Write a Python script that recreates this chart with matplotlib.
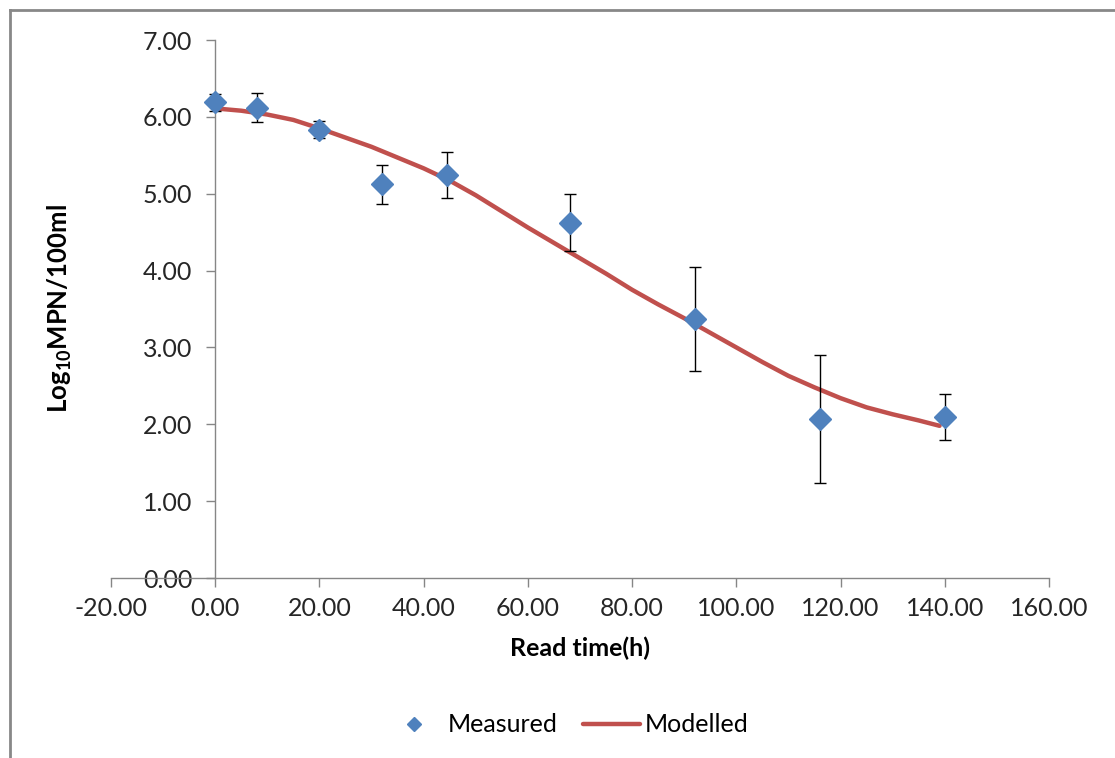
import matplotlib.pyplot as plt
import matplotlib.lines as mlines
import numpy as np

plt.rcParams['font.family'] = ['Lato', 'DejaVu Sans']
plt.rcParams['mathtext.fontset'] = 'custom'
plt.rcParams['mathtext.rm'] = 'Lato'
plt.rcParams['mathtext.bf'] = 'Lato:bold'

# measured values (read time in h, log10 MPN/100ml, error)
meas_t = [0, 8, 20, 32, 44.5, 68, 92, 116, 140]
meas_y = [6.19, 6.12, 5.83, 5.12, 5.24, 4.62, 3.37, 2.07, 2.10]
meas_err = [0.11, 0.19, 0.11, 0.25, 0.30, 0.37, 0.68, 0.83, 0.30]

# modelled curve
model_t = [0, 5, 10, 15, 20, 25, 30, 35, 40, 45, 50, 55, 60, 65, 70, 75, 80,
           85, 90, 95, 100, 105, 110, 115, 120, 125, 130, 135, 139]
model_y = [6.11, 6.08, 6.03, 5.96, 5.85, 5.73, 5.61, 5.47, 5.33, 5.17, 4.98,
           4.77, 4.56, 4.36, 4.16, 3.96, 3.75, 3.56, 3.38, 3.19, 3.00, 2.81,
           2.63, 2.48, 2.34, 2.22, 2.13, 2.05, 1.98]

fs = 18

fig = plt.figure(figsize=(11.15, 7.58), dpi=100)
ax = fig.add_axes([111/1115, 1-578/758, (1049-111)/1115, (578-40)/758])

ax.plot(model_t, model_y, color='#C0504D', lw=3.2, solid_capstyle='round',
        label='Modelled', zorder=2)
ax.errorbar(meas_t, meas_y, yerr=meas_err, fmt='none', ecolor='black',
            elinewidth=1, capsize=4, capthick=1, zorder=3)
ax.plot(meas_t, meas_y, ls='none', marker='D', ms=11, color='#4F81BD',
        mec='#4F81BD', label='Measured', zorder=4)

ax.set_xlim(-20, 160)
ax.set_ylim(0, 7)
ax.set_xticks(np.arange(-20, 161, 20))
ax.set_yticks(np.arange(0, 7.1, 1))
ax.xaxis.set_major_formatter(plt.FormatStrFormatter('%.2f'))
ax.yaxis.set_major_formatter(plt.FormatStrFormatter('%.2f'))

ax.spines['left'].set_position(('data', 0))
ax.spines['top'].set_visible(False)
ax.spines['right'].set_visible(False)
for s in ['left', 'bottom']:
    ax.spines[s].set_color('#868686')
    ax.spines[s].set_linewidth(1)
ax.tick_params(axis='both', direction='out', length=6.5, width=1,
               color='#868686', labelsize=fs, labelcolor='#262626')
ax.tick_params(axis='x', pad=7)
ax.tick_params(axis='y', pad=10)

ax.set_xlabel('Read time(h)', fontsize=fs, fontweight='bold', labelpad=12)
ax.set_ylabel(r'Log$_{\mathbf{10}}$MPN/100ml', fontsize=18.5,
              fontweight='bold')
ax.yaxis.set_label_coords(-0.039, 0.5)

h, l = ax.get_legend_handles_labels()
fig.legend([h[1], h[0]], [l[1], l[0]], loc='center', ncol=2,
           bbox_to_anchor=(567/1115, 1-725/758), frameon=False,
           fontsize=fs, handlelength=2.3, handletextpad=0.2,
           columnspacing=1.0, markerscale=0.65)

# outer chart border
fig.add_artist(mlines.Line2D([10/1115, 10/1115], [0, 1-10/758],
                             transform=fig.transFigure, color='#888888', lw=2))
fig.add_artist(mlines.Line2D([10/1115, 1], [1-10/758, 1-10/758],
                             transform=fig.transFigure, color='#888888', lw=2))

fig.savefig('out.png', dpi=100)
